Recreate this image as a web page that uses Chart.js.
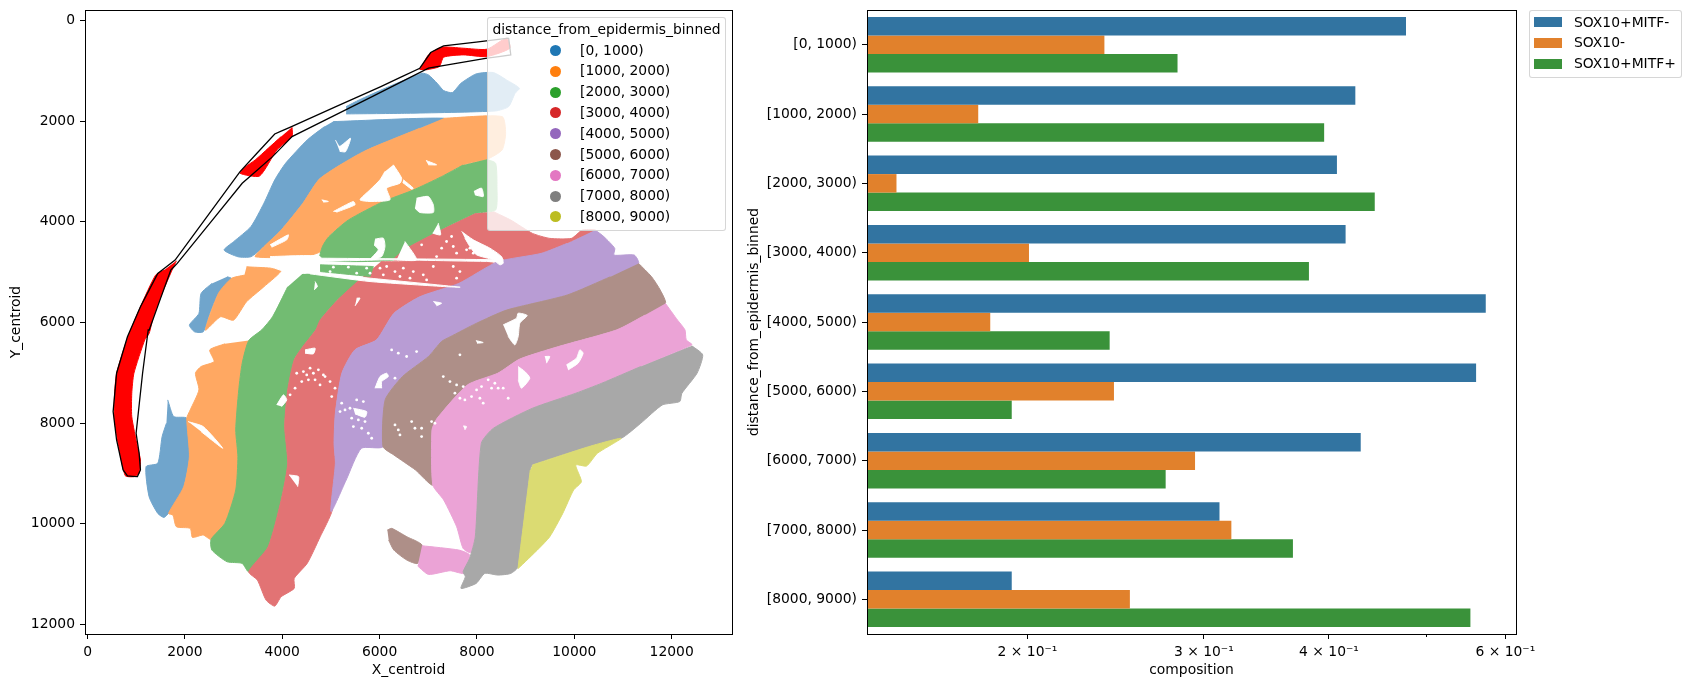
<!DOCTYPE html>
<html>
<head>
<meta charset="utf-8">
<title>composition by distance from epidermis</title>
<script src="https://cdn.jsdelivr.net/npm/chart.js@4"></script>
<style>
body { margin: 0; background: #fff; font-family: "DejaVu Sans", sans-serif; font-size: 13.89px; color: #000; }
canvas { position: absolute; top: 0; }
#left { left: 0; }
#right { left: 740px; }
.legend { position: absolute; box-sizing: border-box; background: rgba(255,255,255,.8); border: 1px solid rgba(204,204,204,.8); border-radius: 3px; }
.legend div, .legend span { position: absolute; white-space: nowrap; }
</style>
</head>
<body>
<canvas id="left" width="760" height="690"></canvas>
<canvas id="right" width="800" height="690"></canvas>
<div class="legend" id="binLegend" style="left:487px;top:17px;width:239px;height:214px"></div>
<div class="legend" id="stateLegend" style="left:1529px;top:10px;width:153px;height:68px"></div>
<script>
// bar chart values
const bins = ["[0, 1000)", "[1000, 2000)", "[2000, 3000)", "[3000, 4000)", "[4000, 5000)", "[5000, 6000)", "[6000, 7000)", "[7000, 8000)", "[8000, 9000)"]
const sox10MitfNeg = [.4775, .425, .4074, .4156, .5736, .561, .4303, .311, .1929]
const sox10Neg = [.2387, .1786, .148, .2007, .1836, .244, .294, .3196, .2531]
const sox10MitfPos = [.2824, .3956, .4444, .382, .2416, .1929, .2748, .3682, .5537]
const compTicks = [.2, .3, .4, .5, .6]
const compLabels = ["2 × 10⁻¹", "3 × 10⁻¹", "4 × 10⁻¹", "", "6 × 10⁻¹"]
const centroidXTicks = [0, 2000, 4000, 6000, 8000, 10000, 12000]
const centroidYTicks = [0, 2000, 4000, 6000, 8000, 10000, 12000]

// tissue outlines, in X_centroid / Y_centroid units
const blue1 = [[5313,1711],[5580,1578],[6114,1346],[6871,1048],[7004,1081],[7182,1246],[7316,1392],[7494,1432],[7672,1246],[7983,1061],[8339,1034],[8606,1180],[8873,1346],[8784,1445],[8651,1711],[8384,1797],[6559,1843],[5313,1856]]
const blue2 = [[5046,2009],[7316,1943],[6826,2141],[5669,2606],[4779,3136],[4423,3633],[3978,4164],[3622,4495],[3355,4694],[3088,4694],[2804,4561],[2999,4396],[3355,4097],[3622,3633],[3845,3169],[4067,2838],[4512,2374],[4868,2108]]
const blue3 = [[2866,5092],[2955,5125],[2688,5423],[2510,5821],[2376,6186],[2198,6186],[2092,6053],[2287,5821],[2332,5423],[2554,5224]]
const blue4 = [[1647,7539],[1771,7871],[2038,7904],[2092,8666],[1976,9263],[1771,9661],[1575,9873],[1442,9794],[1264,9462],[1202,8865],[1442,8799],[1531,8269],[1620,8003]]
const orange1 = [[7316,1943],[8517,1909],[8589,2241],[8517,2572],[8206,2758],[7716,2871],[7271,3103],[6693,3368],[6070,3600],[5358,3965],[4957,4296],[4779,4595],[4423,4694],[3444,4694],[3622,4495],[3978,4164],[4423,3633],[4779,3136],[5669,2606],[6826,2141]]
const orange2 = [[3266,4893],[3978,4959],[3622,5291],[3266,5589],[2999,5954],[2732,5887],[2421,6153],[2688,5423],[2955,5125],[3222,5059]]
const orange3 = [[3311,6359],[3177,6810],[3106,7340],[3044,8136],[3088,8666],[3044,9329],[2821,9992],[2537,10311],[2376,10224],[2154,10271],[2109,10092],[1825,10059],[1753,9827],[1664,9794],[1976,9263],[2092,8666],[2038,7904],[2109,7738],[2287,7340],[2216,7009],[2332,6876],[2599,6777],[2510,6545],[2821,6425]]
const orange4 = [[3818,4822],[4092,4789],[4024,4889],[3832,4889]]
const green1 = [[8206,2758],[8384,2838],[8411,3302],[8384,3766],[7983,3832],[7271,4164],[6559,4528],[6292,4760],[4779,4760],[4824,4495],[4957,4296],[5358,3965],[6070,3600],[6693,3368],[7271,3103],[7716,2871]]
const green2 = [[4423,5026],[5580,5158],[5135,5556],[4779,5954],[4690,6147],[4423,6479],[4245,6744],[4112,7340],[4050,8070],[4112,8799],[3978,9528],[3711,10457],[3311,10954],[3177,10788],[2866,10755],[2554,10523],[2537,10311],[2821,9992],[3044,9329],[3088,8666],[3044,8136],[3106,7340],[3177,6810],[3311,6359],[3578,6147],[3800,5887],[4112,5291]]
const green3 = [[4776,4855],[5871,4888],[5803,5087],[4776,4988]]
const red1 = [[8339,3799],[8695,3965],[9140,4230],[9496,4329],[9941,4329],[10164,4164],[10431,4164],[9852,4429],[9318,4628],[8428,4793],[6292,4760],[6559,4528],[7271,4164],[7983,3832]]
const red2 = [[6025,4793],[8339,4827],[7627,5224],[6826,5489],[6292,5821],[5936,6346],[5491,6545],[5224,7009],[5091,7805],[5064,8401],[5091,8799],[5028,9727],[4779,10258],[4512,10788],[4245,11086],[4245,11285],[3978,11451],[3845,11637],[3667,11517],[3489,11120],[3311,10954],[3711,10457],[3978,9528],[4112,8799],[4050,8070],[4112,7340],[4245,6744],[4423,6479],[4690,6147],[4779,5954],[5135,5556],[5580,5158]]
const purple1 = [[10431,4164],[10609,4296],[10831,4528],[10814,4661],[11232,4661],[11321,4827],[10743,5092],[9852,5456],[8606,5755],[7983,6020],[7449,6285],[7271,6379],[7004,6677],[6470,7075],[6114,7539],[6070,8468],[5625,8501],[5313,9131],[5002,9760],[5091,8799],[5064,8401],[5091,7805],[5224,7009],[5491,6545],[5936,6346],[6292,5821],[6826,5489],[7627,5224],[8428,4793],[9318,4628],[9852,4429]]
const brown1 = [[11321,4827],[11588,5092],[11766,5357],[11873,5622],[11454,5854],[10876,6147],[9674,6479],[8873,6730],[8428,7009],[7805,7241],[7182,7904],[7076,8136],[7093,9230],[6737,8932],[6292,8633],[6070,8468],[6114,7539],[6470,7075],[7004,6677],[7271,6379],[7449,6285],[7983,6020],[8606,5755],[9852,5456],[10743,5092]]
const brown2 = [[6159,10125],[6248,10092],[6559,10258],[6871,10423],[6782,10788],[6559,10722],[6292,10523],[6186,10324]]
const pink1 = [[11873,5622],[12122,5954],[12273,6147],[12300,6346],[12416,6445],[11365,6876],[10564,7208],[10030,7407],[9140,7705],[8339,8103],[8090,8401],[7966,10258],[7877,10576],[7716,10490],[7583,10059],[7316,9528],[7093,9230],[7076,8136],[7182,7904],[7805,7241],[8428,7009],[8873,6730],[9674,6479],[10876,6147],[11454,5854]]
const pink2 = [[6871,10437],[7627,10523],[7850,10622],[7761,10987],[7449,10934],[7004,11007],[6782,10841]]
const gray1 = [[12416,6465],[12638,6644],[12522,7009],[12211,7407],[12166,7572],[11810,7639],[11365,8003],[10965,8302],[10297,8468],[9140,8832],[9096,8932],[8847,10854],[8695,10987],[8428,11020],[8161,10987],[7983,11186],[7672,11285],[7761,11053],[7716,10954],[7850,10689],[7966,10258],[8090,8401],[8339,8103],[9140,7705],[10030,7407],[10564,7208],[11365,6876]]
const olive1 = [[9140,8832],[10297,8468],[10965,8302],[10475,8600],[10253,8852],[10030,8832],[10146,9164],[9986,9329],[9763,9794],[9496,10258],[9274,10490],[8847,10887],[8847,10854],[9096,8932]]

// white tears in the tissue
const tears = [
  [[5091,2374],[5180,2500],[5402,2340],[5300,2606],[5180,2600]],
  [[6282,2867],[6453,3132],[6418,3232],[6145,3331],[6213,3563],[5803,3596],[5597,3563],[5803,3364],[6008,3165],[6110,2999]],
  [[5050,3795],[5460,3596],[5495,3662],[5118,3808]],
  [[6487,3165],[6692,3331],[6658,3351],[6473,3218]],
  [[6760,3530],[7000,3497],[7103,3662],[7103,3815],[6829,3815],[6726,3729]],
  [[6952,2781],[7171,2867],[7000,2867]],
  [[4811,3563],[4947,3596],[4845,3609]],
  [[7937,3397],[8095,3331],[8129,3497],[7958,3464]],
  [[7205,4027],[7253,4259],[7089,4226]],
  [[6521,4391],[6760,4756],[6350,4756]],
  [[5905,4345],[6076,4325],[6110,4491],[6042,4690],[5803,4756],[5974,4557],[5885,4458]],
  [[7684,4193],[7924,4358],[8266,4524],[8505,4690],[8539,4822],[8471,4855],[8334,4756],[7992,4656],[7855,4491],[7753,4325]],
  [[4776,4723],[8539,4756],[8402,4789],[6213,4756],[4776,4789]],
  [[4434,4988],[5803,5120],[7650,5299],[7308,5286],[5803,5187],[4571,5034]],
  [[3750,4690],[4776,4690],[4776,4955],[4503,5021],[4160,5021],[3750,4889]],
  [[5529,5518],[5597,5518],[5495,5670]],
  [[4674,5187],[4722,5286],[4653,5352]],
  [[7103,5584],[7274,5617],[7171,5670]],
  [[3750,4458],[4126,4259],[4092,4358],[3784,4504]],
  [[4468,6545],[4674,6512],[4639,6624],[4468,6611]],
  [[3887,7638],[4024,7439],[4092,7539],[3989,7671]],
  [[5905,7307],[6008,7075],[6145,7009],[6179,7075],[6042,7174],[6042,7307]],
  [[5460,7705],[5734,7771],[5700,7883],[5495,7817]],
  [[8847,6876],[8984,6976],[9086,7108],[8915,7307],[8847,7141]],
  [[9839,6843],[10044,6711],[10113,6545],[10181,6611],[10078,6810],[9873,6943]],
  [[9394,6678],[9497,6678],[9428,6810]],
  [[8539,6048],[8813,5915],[8847,5816],[9032,5862],[8881,6015],[8847,6280],[8778,6446],[8641,6280]],
  [[7978,6359],[8128,6399],[8005,6413]],
  [[7718,8056],[7786,8069],[7752,8136]],
  [[2065,7970],[2376,8070],[2777,8501],[2332,8169]],
  [[4138,9031],[4334,9064],[4317,9263]]
]

// speckled holes, single white dots
const speckles = [[6863,4458],[7274,4524],[7376,4391],[7479,4292],[7513,4491],[7787,4557],[7924,4623],[8026,4458],[8129,4557],[8231,4623],[7171,4690],[7582,4623],[7855,4524],
  [6008,4922],[6145,4888],[6076,5054],[6316,4988],[6487,4922],[6692,4988],[6897,5054],[7103,4888],[7513,4888],[7650,4988],[7582,5120],[6418,5087],[6624,5120],[6966,5154],
  [5050,4902],[5358,4902],[4982,4988],[5734,4922],[5529,5021],[5803,5021],
  [4297,7009],[4434,6976],[4571,6909],[4742,6942],[4845,7042],[4982,7174],[5084,7307],[4400,7174],[4537,7141],[4674,7141],[4776,7241],[4263,7307],[4161,7439],[5016,7473],[4879,7075],[4503,7042],[4639,7009],
  [5221,7605],[5289,7738],[5392,7705],[5426,7903],[5563,7936],[5700,7970],[5461,8069],[5632,8102],[5768,8202],[5837,8301],[5529,7539],[5666,7572],[5187,7771],[6247,6545],[6384,6611],[6555,6677],[6760,6578],[6316,7108],
  [7308,7075],[7445,7174],[7582,7241],[7718,7274],[7547,7406],[7650,6644],[6316,8036],[6384,8135],[6418,8235],[6658,7970],[6726,8102],[6863,8102],[6863,8268],[7068,7970],[7137,8003],
  [7650,7506],[7752,7539],[7889,7473],[7992,7340],[8094,7274],[8231,7141],[8300,7307],[8436,7307],[8539,7307],[8368,7208],[8060,7506],[8128,7605],[8642,7506]]

// epidermis annotation
const epidermisA = [[1825,4774],[1736,4959],[1531,5423],[1353,5887],[1264,6219],[1175,6346],[952,7009],[908,7407],[908,7871],[1024,8468],[1086,8733],[1059,8998],[952,9064],[774,9044],[641,8468],[552,7937],[552,7473],[596,7009],[819,6313],[1086,5689],[1398,5059],[1576,4959]]
const epidermisB = [[4201,2122],[4201,2307],[3889,2572],[3533,3090],[3133,3037],[3222,2924],[3444,2771],[3711,2539],[3978,2307]]
const epidermisC = [[6826,981],[7004,683],[7271,530],[7716,550],[8206,570],[8606,351],[8678,550],[8206,716],[7716,683],[7316,729],[7227,915],[6960,981]]
const epidermisOutline = [[8651,351],[7316,504],[7049,636],[6826,948],[6025,1313],[4156,2122],[3845,2254],[3133,3003],[1798,4760],[1442,5026],[1086,5689],[819,6285],[596,7009],[525,7771],[596,8335],[730,8932],[819,9051],[1024,9064],[1086,8932],[1059,8600],[997,8202],[1130,7009],[1246,6147],[1264,6153],[1709,4959],[1842,4827],[3177,3235],[3800,2705],[4201,2307],[5847,1512],[7004,948],[8206,749],[8695,683],[8651,351]]

const tab10 = ["#1f77b4", "#ff7f0e", "#2ca02c", "#d62728", "#9467bd", "#8c564b", "#e377c2", "#7f7f7f", "#bcbd22"]
const tissue = ["#70a5cc", "#ffa862", "#72bc72", "#e27374", "#b89cd4", "#ae8f88", "#eba3d6", "#a8a8a8", "#dbdb72"]
const states = ["SOX10+MITF-", "SOX10-", "SOX10+MITF+"]
const stateColors = ["#3274a1", "#e1812c", "#3a923a"]

Chart.defaults.font.family = '"DejaVu Sans", sans-serif'
Chart.defaults.font.size = 13.89
Chart.defaults.color = "#000"
Chart.defaults.animation = false

const toXY = pts => pts.map(p => ({x: p[0], y: p[1]}))

function area(pts, color, tension = .001) {
    return {data: toXY(pts), showLine: true, fill: "shape", tension: tension, backgroundColor: color, borderColor: color, borderWidth: 1, pointRadius: 0}
}

const band = (pts, i) => area(pts, tissue[i], .2)

// paint order, chart.js draws the first dataset last so this gets reversed
const paint = [
    band(blue1, 0), band(blue2, 0), band(blue3, 0), band(blue4, 0),
    band(orange1, 1), band(orange2, 1), band(orange3, 1), band(orange4, 1),
    band(green1, 2), band(green2, 2),
    band(red1, 3), band(red2, 3),
    band(purple1, 4),
    band(brown1, 5), band(brown2, 5),
    band(pink1, 6), band(pink2, 6),
    band(gray1, 7),
    band(olive1, 8),
    ...tears.map(t => area(t, "#fff", .2)),
    area(green3, tissue[2]),
    {data: toXY(speckles), showLine: false, pointRadius: 1.4, pointBorderWidth: 0, pointBackgroundColor: "#fff"},
    area(epidermisA, "#f00", .2), area(epidermisB, "#f00", .2), area(epidermisC, "#f00", .2),
    {data: toXY(epidermisOutline), showLine: true, fill: false, tension: .001, borderColor: "#000", borderWidth: 1.3, pointRadius: 0}
]

const frame = {
    id: "frame",
    afterDraw(chart) {
        const a = chart.chartArea, ctx = chart.ctx
        ctx.save()
        ctx.strokeStyle = "#000"
        ctx.lineWidth = 1
        ctx.strokeRect(Math.round(a.left) + .5, Math.round(a.top) + .5, Math.round(a.width), Math.round(a.height))
        // the unlabelled log tick is shorter
        const x = chart.scales.x
        if (x.type === "logarithmic") {
            const px = Math.round(x.getPixelForValue(.5)) + .5
            ctx.beginPath()
            ctx.moveTo(px, a.bottom)
            ctx.lineTo(px, a.bottom + 3)
            ctx.stroke()
        }
        ctx.restore()
    }
}

function axisTitle(text, bottom, top) {
    return {display: true, text: text, padding: {top: top, bottom: bottom}}
}

// fixed axis boxes so the plot area lands where the reference has it
function fitX(s) {
    s.height = 56
    s.paddingLeft = 0
    s.paddingRight = 0
}

function fitY(width) {
    return s => {
        s.width = width
        s.paddingTop = 0
        s.paddingBottom = 0
    }
}

new Chart(document.getElementById("left"), {
    type: "scatter",
    data: {datasets: paint.reverse()},
    options: {
        responsive: false,
        layout: {padding: {top: 10, right: 28}},
        plugins: {legend: {display: false}, tooltip: {enabled: false}},
        scales: {
            x: {
                min: -53, max: 13240,
                grid: {drawOnChartArea: false, tickLength: 5, tickColor: "#000"},
                border: {color: "#000"},
                afterBuildTicks: s => { s.ticks = centroidXTicks.map(v => ({value: v})) },
                afterFit: fitX,
                ticks: {maxRotation: 0, autoSkip: false, padding: 5, callback: v => String(v)},
                title: axisTitle("X_centroid", 11, 0)
            },
            y: {
                reverse: true, min: -209, max: 12191,
                grid: {drawOnChartArea: false, tickLength: 5, tickColor: "#000"},
                border: {color: "#000"},
                afterBuildTicks: s => { s.ticks = centroidYTicks.map(v => ({value: v})) },
                afterFit: fitY(85),
                ticks: {autoSkip: false, padding: 5, callback: v => String(v)},
                title: axisTitle("Y_centroid", 0, 8)
            }
        }
    },
    plugins: [frame]
})

const barSets = [sox10MitfNeg, sox10Neg, sox10MitfPos].map((vals, i) => ({
    label: states[i], data: vals, backgroundColor: stateColors[i], barPercentage: 1, categoryPercentage: .8
}))

new Chart(document.getElementById("right"), {
    type: "bar",
    data: {labels: bins, datasets: barSets},
    options: {
        indexAxis: "y",
        responsive: false,
        layout: {padding: {top: 10, right: 24}},
        plugins: {legend: {display: false}, tooltip: {enabled: false}},
        scales: {
            x: {
                type: "logarithmic", min: .1383, max: .6149,
                grid: {drawOnChartArea: false, tickLength: 5, tickColor: ctx => ctx.tick && ctx.tick.value === .5 ? "transparent" : "#000"},
                border: {color: "#000"},
                afterBuildTicks: s => { s.ticks = compTicks.map(v => ({value: v})) },
                afterFit: fitX,
                ticks: {maxRotation: 0, autoSkip: false, padding: 5, callback: v => compLabels[compTicks.indexOf(v)]},
                title: axisTitle("composition", 11, 0)
            },
            y: {
                grid: {drawOnChartArea: false, offset: false, tickLength: 5, tickColor: "#000"},
                border: {color: "#000"},
                afterFit: fitY(127),
                ticks: {autoSkip: false, padding: 5},
                title: axisTitle("distance_from_epidermis_binned", 0, 6)
            }
        }
    },
    plugins: [frame]
})

// legends, built from the same arrays
function place(parent, css, text) {
    const el = document.createElement("div")
    el.style.cssText = css
    if (text) el.textContent = text
    parent.appendChild(el)
}

const binLegend = document.getElementById("binLegend")
place(binLegend, "left:0;width:100%;text-align:center;top:3px", "distance_from_epidermis_binned")
bins.forEach((b, i) => {
    const y = 32 + i * 20.8
    place(binLegend, `left:62px;top:${y - 5}px;width:11px;height:11px;border-radius:50%;background:${tab10[i]}`)
    place(binLegend, `left:92px;top:${y - 8.5}px`, b)
})

const stateLegend = document.getElementById("stateLegend")
states.forEach((s, i) => {
    const y = 11 + i * 20.8
    place(stateLegend, `left:4px;top:${y - 5}px;width:28px;height:10px;background:${stateColors[i]}`)
    place(stateLegend, `left:44px;top:${y - 8.5}px`, s)
})
</script>
</body>
</html>
